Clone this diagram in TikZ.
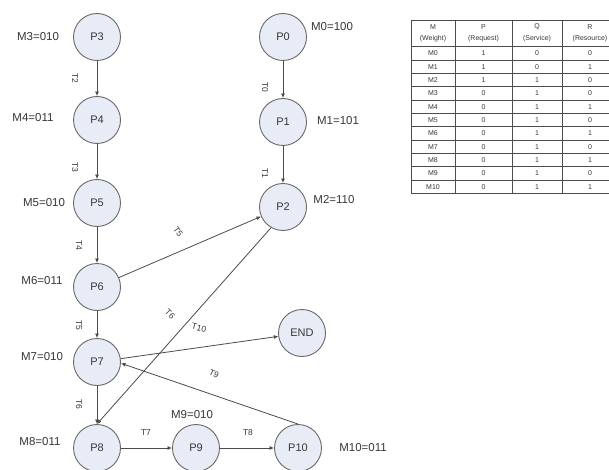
\documentclass[tikz,border=0pt]{standalone}
\usepackage{fontspec}
\setmainfont{Liberation Sans}
\usetikzlibrary{arrows.meta}
\definecolor{nodefill}{RGB}{231,236,246}
\definecolor{nodeline}{RGB}{105,105,105}
\definecolor{txt}{RGB}{55,55,55}
\definecolor{edgecol}{RGB}{75,75,75}
\begin{document}
\begin{tikzpicture}[x=1pt,y=-1pt,
  place/.style={circle, draw=nodeline, fill=nodefill, line width=0.9pt, minimum size=47pt, inner sep=0pt, font=\fontsize{11}{12}\selectfont, text=txt},
  mlab/.style={font=\fontsize{11.5}{12}\selectfont, text=txt, inner sep=0pt},
  tlab/.style={font=\fontsize{8.5}{9}\selectfont, text=txt, inner sep=0pt},
  arr/.style={draw=edgecol, line width=0.8pt, -{Latex[length=4.5pt,width=4pt]}},
  cell/.style={font=\fontsize{7}{8}\selectfont, text=txt, inner sep=0pt},
  tline/.style={draw=black!70, line width=0.8pt}]
\fill[white] (0,0) rectangle (609,470);
\useasboundingbox (0,0) rectangle (609,470);

% places
\node[place] (P3) at (97,37) {P3};
\node[place] (P4) at (97,120) {P4};
\node[place] (P5) at (97,203) {P5};
\node[place] (P6) at (97,287) {P6};
\node[place] (P7) at (97,362) {P7};
\node[place] (P8) at (97,448) {P8};
\node[place] (P9) at (196,448) {P9};
\node[place] (P10) at (298,448) {P10};
\node[place] (END) at (302,333) {END};
\node[place] (P0) at (283,37) {P0};
\node[place] (P1) at (283,122) {P1};
\node[place] (P2) at (283,207) {P2};

% markings
\node[mlab] (m3) at (38,37) {M3=010};
\node[mlab] (m4) at (33,118) {M4=011};
\node[mlab] (m5) at (44,203) {M5=010};
\node[mlab] (m6) at (42,281) {M6=011};
\node[mlab] (m7) at (42,357) {M7=010};
\node[mlab] (m8) at (40,442) {M8=011};
\node[mlab] (m9) at (192,415) {M9=010};
\node[mlab] (m10) at (363,448) {M10=011};
\node[mlab] (m0) at (332,27) {M0=100};
\node[mlab] (m1) at (338,121) {M1=101};
\node[mlab] (m2) at (334,200) {M2=110};

% arcs
\draw[arr] (P0) -- (P1);
\draw[arr] (P1) -- (P2);
\draw[arr] (P3) -- (P4);
\draw[arr] (P4) -- (P5);
\draw[arr] (P5) -- (P6);
\draw[arr] (P6) -- (P7);
\draw[arr] (P7) -- (P8);
\draw[arr] (P6) -- (P2);
\draw[arr] (P2.240) -- (P8.north);
\draw[arr] (P7.8) -- (END);
\draw[arr] (P10.north) -- (P7.-3);
\draw[arr] (P8) -- (P9);
\draw[arr] (P9) -- (P10);

% transition labels
\node[tlab, rotate=-90] (t0) at (265,87) {T0};
\node[tlab, rotate=-90] (t1) at (265,173) {T1};
\node[tlab, rotate=-90] (t2) at (75,78) {T2};
\node[tlab, rotate=-90] (t3) at (75,167) {T3};
\node[tlab, rotate=-90] (t4) at (79,245) {T4};
\node[tlab, rotate=-90] (t5a) at (79,325) {T5};
\node[tlab, rotate=-90] (t6a) at (79,404) {T6};
\node[tlab, rotate=-55] (t5b) at (178,232) {T5};
\node[tlab, rotate=-45] (t6b) at (170,314) {T6};
\node[tlab, rotate=-15] (t10) at (199,328) {T10};
\node[tlab, rotate=-25] (t9) at (214,374) {T9};
\node[tlab] (t7) at (146,433) {T7};
\node[tlab] (t8) at (248,433) {T8};

% table
\begin{scope}
\clip (0,0) rectangle (609,470);
\draw[tline] (411,20) -- (625,20);
\foreach \k in {0,...,11} {
  \draw[tline] (411,{46.7+13.33*\k}) -- (625,{46.7+13.33*\k});
}
\foreach \x in {411,455,512,562} {
  \draw[tline] (\x,20) -- (\x,193.3);
}
\node[cell] (hm1) at (433,27) {M};
\node[cell] (hm2) at (433,39) {(Weight)};
\node[cell] (hp1) at (483.5,27) {P};
\node[cell] (hp2) at (483.5,39) {(Request)};
\node[cell] (hq1) at (537,27) {Q};
\node[cell] (hq2) at (537,39) {(Service)};
\node[cell] (hr1) at (590,27) {R};
\node[cell] (hr2) at (590,39) {(Resource)};
\foreach \i/\p/\q/\r in {0/1/0/0,1/1/0/1,2/1/1/0,3/0/1/0,4/0/1/1,5/0/1/0,6/0/1/1,7/0/1/0,8/0/1/1,9/0/1/0,10/0/1/1} {
  \node[cell] (cm\i) at (433,{53.4+13.33*\i}) {M\i};
  \node[cell] (cp\i) at (483.5,{53.4+13.33*\i}) {\p};
  \node[cell] (cq\i) at (537,{53.4+13.33*\i}) {\q};
  \node[cell] (cr\i) at (590,{53.4+13.33*\i}) {\r};
}
\end{scope}
\end{tikzpicture}
\end{document}
